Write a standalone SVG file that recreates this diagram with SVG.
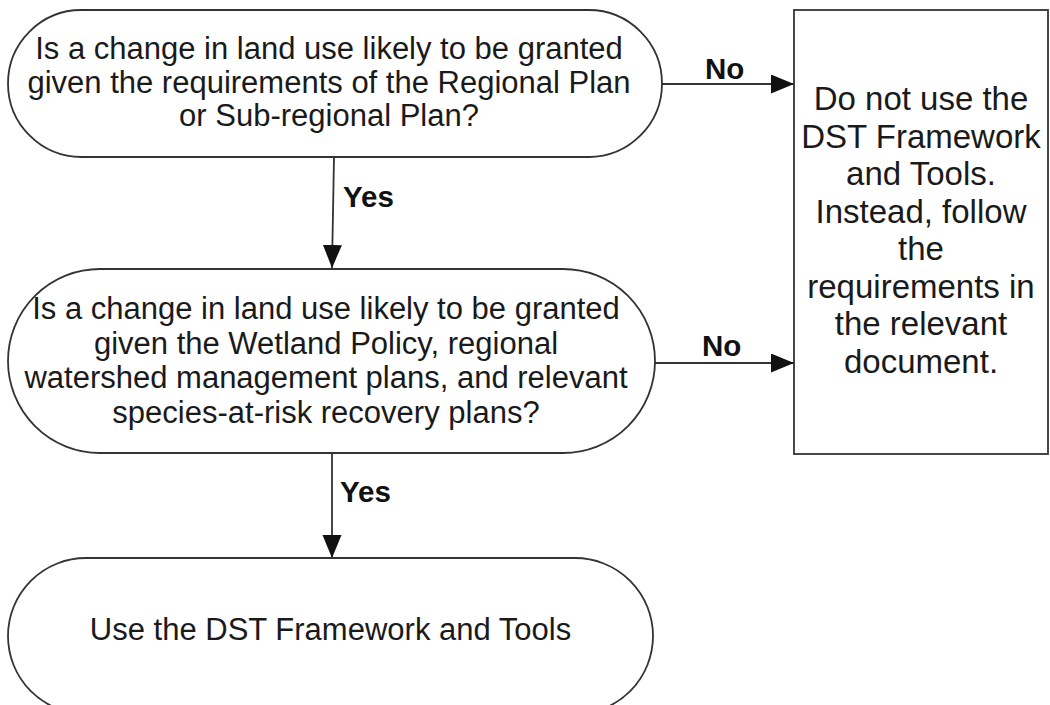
<svg xmlns="http://www.w3.org/2000/svg" width="1050" height="705" viewBox="0 0 1050 705">
  <style>
    .shape { fill: #ffffff; stroke: #333333; stroke-width: 1.8; }
    .wire { fill: none; stroke: #333333; stroke-width: 1.8; }
    .body { font-family: "Liberation Sans", Arial, sans-serif; font-size: 31px; fill: #1a1a1a; text-anchor: middle; }
    .big { font-size: 33px; }
    .tag { font-family: "Liberation Sans", Arial, sans-serif; font-size: 29.5px; font-weight: bold; fill: #111111; }
  </style>
  <defs>
    <marker id="arrow" markerUnits="userSpaceOnUse" markerWidth="24" markerHeight="20" refX="23" refY="9.5" orient="auto">
      <path d="M0,0 L23,9.5 L0,19 z" fill="#111111"/>
    </marker>
  </defs>
  <rect width="1050" height="705" fill="#ffffff"/>

  <!-- connectors -->
  <g id="connectors">
    <line class="wire" x1="334" y1="157" x2="332" y2="268" marker-end="url(#arrow)"/>
    <line class="wire" x1="332" y1="453" x2="332" y2="558" marker-end="url(#arrow)"/>
    <line class="wire" x1="662" y1="84" x2="794" y2="84" marker-end="url(#arrow)"/>
    <line class="wire" x1="655" y1="363" x2="794" y2="363" marker-end="url(#arrow)"/>
    <text class="tag" x="343" y="207">Yes</text>
    <text class="tag" x="340" y="502">Yes</text>
    <text class="tag" x="705" y="79">No</text>
    <text class="tag" x="702" y="356">No</text>
  </g>

  <!-- decision: regional plan -->
  <g id="q-regional-plan">
    <rect class="shape" x="8" y="10" width="654" height="147" rx="73.5" ry="73.5"/>
    <text class="body" x="329" y="59">Is a change in land use likely to be granted</text>
    <text class="body" x="329" y="92.5">given the requirements of the Regional Plan</text>
    <text class="body" x="329" y="126">or Sub-regional Plan?</text>
  </g>

  <!-- decision: wetland policy and plans -->
  <g id="q-wetland-policy">
    <rect class="shape" x="8" y="269" width="647" height="184" rx="92" ry="92"/>
    <text class="body" x="326" y="319">Is a change in land use likely to be granted</text>
    <text class="body" x="326" y="353.5">given the Wetland Policy, regional</text>
    <text class="body" x="326" y="388">watershed management plans, and relevant</text>
    <text class="body" x="326" y="422.5">species-at-risk recovery plans?</text>
  </g>

  <!-- outcome: use the framework -->
  <g id="use-dst">
    <rect class="shape" x="8" y="558" width="645" height="156" rx="78" ry="78"/>
    <text class="body" x="330.5" y="640">Use the DST Framework and Tools</text>
  </g>

  <!-- outcome: do not use the framework -->
  <g id="do-not-use-dst">
    <rect class="shape" x="794" y="10" width="254" height="444"/>
    <text class="body big" x="921" y="110">Do not use the</text>
    <text class="body big" x="921" y="147.5">DST Framework</text>
    <text class="body big" x="921" y="185">and Tools.</text>
    <text class="body big" x="921" y="222.5">Instead, follow</text>
    <text class="body big" x="921" y="260">the</text>
    <text class="body big" x="921" y="297.5">requirements in</text>
    <text class="body big" x="921" y="335">the relevant</text>
    <text class="body big" x="921" y="372.5">document.</text>
  </g>
</svg>
